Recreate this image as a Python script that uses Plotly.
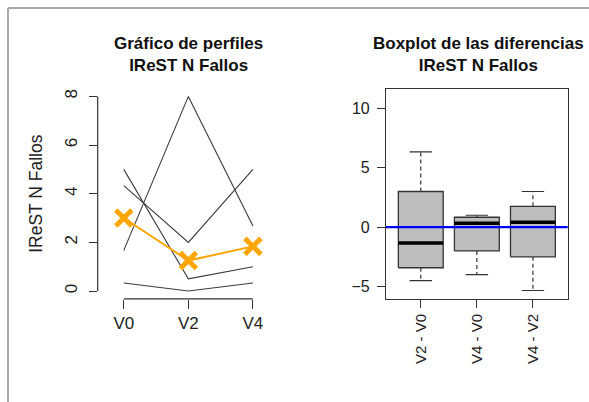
import plotly.graph_objects as go

# Visits and per-subject IReST error counts
visits = ["V0", "V2", "V4"]
subj_a = [1.67, 8.0, 2.67]
subj_b = [5.0, 0.5, 1.0]
subj_c = [4.33, 2.0, 5.0]
subj_d = [0.33, 0.0, 0.33]
subjects = [subj_a, subj_b, subj_c, subj_d]

diff_labels = ["V2 - V0", "V4 - V0", "V4 - V2"]
diff_pairs = [(1, 0), (2, 0), (2, 1)]

W, H = 589, 402
FONT = "Liberation Sans, Arial, sans-serif"
TXT = "#222222"
AX = "#333333"


def median(v):
    s = sorted(v)
    n = len(s)
    return s[n // 2] if n % 2 else (s[n // 2 - 1] + s[n // 2]) / 2


def fivenum(v):
    s = sorted(v)
    n = len(s)
    half = (n + 1) // 2
    lower = s[:half]
    upper = s[n - half:]
    return s[0], median(lower), median(s), median(upper), s[-1]


xpos = [1, 2, 3]
fig = go.Figure()

# profile lines, one per subject
for vals in subjects:
    fig.add_trace(go.Scatter(x=xpos, y=vals, mode="lines",
                             line=dict(color="#3a3a3a", width=1.1),
                             xaxis="x", yaxis="y", showlegend=False,
                             hoverinfo="skip"))

# median profile
med_profile = [median([s[i] for s in subjects]) for i in range(len(visits))]
fig.add_trace(go.Scatter(x=xpos, y=med_profile, mode="lines+markers",
                         line=dict(color="#FFA500", width=2),
                         marker=dict(symbol="x-thin", size=16,
                                     line=dict(color="#FFA500", width=5)),
                         xaxis="x", yaxis="y", showlegend=False))

# boxplots of the differences
for k, (a, b) in enumerate(diff_pairs):
    d = [s[a] - s[b] for s in subjects]
    lo, q1, md, q3, hi = fivenum(d)
    i = k + 1
    bw, cw = 0.4, 0.2
    fig.add_trace(go.Scatter(x=[i, i], y=[q3, hi], mode="lines",
                             line=dict(color=AX, width=1.2, dash="4px,3px"),
                             xaxis="x2", yaxis="y2", showlegend=False))
    fig.add_trace(go.Scatter(x=[i, i], y=[q1, lo], mode="lines",
                             line=dict(color=AX, width=1.2, dash="4px,3px"),
                             xaxis="x2", yaxis="y2", showlegend=False))
    for yv in (lo, hi):
        fig.add_trace(go.Scatter(x=[i - cw, i + cw], y=[yv, yv], mode="lines",
                                 line=dict(color=AX, width=1.2),
                                 xaxis="x2", yaxis="y2", showlegend=False))
    fig.add_trace(go.Scatter(x=[i - bw, i + bw, i + bw, i - bw, i - bw],
                             y=[q1, q1, q3, q3, q1], mode="lines",
                             fill="toself", fillcolor="#BEBEBE",
                             line=dict(color=AX, width=1.3),
                             xaxis="x2", yaxis="y2", showlegend=False))
    fig.add_trace(go.Scatter(x=[i - bw, i + bw], y=[md, md], mode="lines",
                             line=dict(color="#000000", width=3.5),
                             xaxis="x2", yaxis="y2", showlegend=False))

ytop, ybot = 1 - 88.6 / H, 1 - 298.8 / H
tickfont = dict(family=FONT, size=17, color=TXT)

fig.update_layout(
    width=W, height=H,
    margin=dict(l=0, r=0, t=0, b=0),
    paper_bgcolor="white", plot_bgcolor="white",
    font=dict(family=FONT, color=TXT),
    xaxis=dict(domain=[97.7 / W, 279 / W], range=[0.596, 3.404],
               tickvals=xpos, ticktext=visits, ticks="outside", ticklen=9,
               tickcolor=AX, tickwidth=1, showgrid=False, zeroline=False,
               showline=False, tickfont=tickfont, anchor="y"),
    yaxis=dict(domain=[ybot, ytop], range=[-0.32, 8.32],
               tickvals=[0, 2, 4, 6, 8], ticks="outside", ticklen=8,
               tickcolor=AX, tickwidth=1, tickangle=-90, showgrid=False,
               zeroline=False, showline=False, tickfont=tickfont,
               ticklabelstandoff=5,
               title=dict(text="IReST N Fallos", standoff=14,
                          font=dict(family=FONT, size=17.5, color=TXT)),
               anchor="x"),
    xaxis2=dict(domain=[386 / W, 567.7 / W], range=[0.38, 3.62],
                tickvals=[1, 2, 3], ticktext=diff_labels, tickangle=-90,
                ticks="outside", ticklen=8, tickcolor=AX, tickwidth=1,
                showgrid=False, zeroline=False, showline=True, mirror=True,
                linecolor=AX, linewidth=1.2,
                tickfont=dict(family=FONT, size=15, color=TXT), anchor="y2"),
    yaxis2=dict(domain=[ybot, ytop], range=[-6.03, 11.66],
                tickvals=[-5, 0, 5, 10], ticks="outside", ticklen=8,
                tickcolor=AX, tickwidth=1, showgrid=False, zeroline=False,
                showline=True, mirror=True, linecolor=AX, linewidth=1.2,
                ticklabelstandoff=4,
                tickfont=dict(family=FONT, size=16, color=TXT), anchor="x2"),
    shapes=[
        # R-style axis lines spanning only the tick range
        dict(type="line", xref="x domain", yref="y", x0=0, x1=0, y0=0, y1=8,
             line=dict(color=AX, width=1.2)),
        dict(type="line", xref="x", yref="y domain", x0=1, x1=3, y0=0, y1=0,
             line=dict(color=AX, width=1.2)),
        # reference line at zero difference
        dict(type="line", xref="x2 domain", yref="y2", x0=0, x1=1, y0=0, y1=0,
             line=dict(color="#0000FF", width=2.2), layer="above"),
        # outer device border
        dict(type="line", xref="paper", yref="paper", x0=8 / W, x1=8 / W,
             y0=0, y1=1 - 8 / H, line=dict(color="#A8A8A8", width=2)),
        dict(type="line", xref="paper", yref="paper", x0=8 / W, x1=1,
             y0=1 - 8 / H, y1=1 - 8 / H, line=dict(color="#A8A8A8", width=2)),
    ],
    annotations=[
        dict(text="<b>Gráfico de perfiles<br>IReST N Fallos</b>",
             xref="paper", yref="paper", x=188.3 / W, y=1 - 55 / H,
             xanchor="center", yanchor="middle", showarrow=False,
             font=dict(family=FONT, size=17, color="#111111")),
        dict(text="<b>Boxplot de las diferencias<br>IReST N Fallos</b>",
             xref="paper", yref="paper", x=478 / W, y=1 - 55 / H,
             xanchor="center", yanchor="middle", showarrow=False,
             font=dict(family=FONT, size=17, color="#111111")),
    ],
)

fig.write_html("out.html")
